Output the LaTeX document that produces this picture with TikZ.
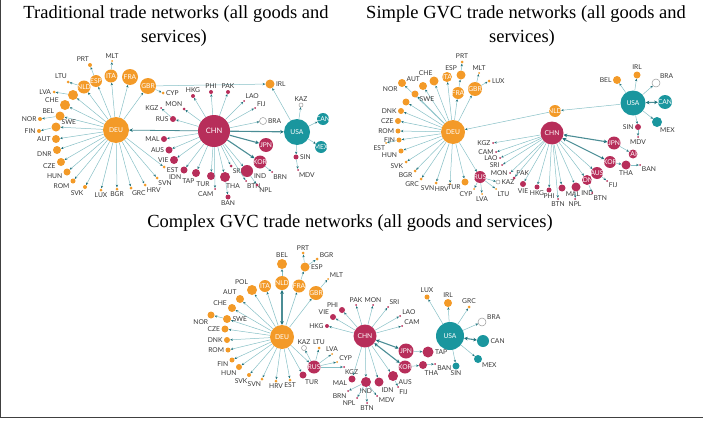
\documentclass[tikz,border=0pt]{standalone}
\usepackage{fontspec}
\setmainfont{Liberation Serif}
\newfontfamily\latofam{Lato}
\usetikzlibrary{arrows.meta}
\definecolor{euorg}{RGB}{243,154,40}
\definecolor{asred}{RGB}{183,46,90}
\definecolor{amteal}{RGB}{26,150,158}
\definecolor{lnkcol}{RGB}{135,192,198}
\definecolor{tipcol}{RGB}{30,112,122}
\definecolor{labgray}{RGB}{55,55,55}
\newcommand\ctryfont{\latofam\fontsize{6.7}{7}\selectfont}
\tikzset{ctry/.style = {circle, inner sep = 0, outer sep = 0.2pt, text=white, font=\ctryfont}}
\tikzset{eur/.style = {ctry, fill=euorg}}
\tikzset{asi/.style = {ctry, fill=asred}}
\tikzset{ame/.style = {ctry, fill=amteal}}
\tikzset{hol/.style = {ctry, draw=gray!80, fill=white, line width=0.5pt}}
\tikzset{lab/.style = {font=\ctryfont, text=labgray, inner sep=0.5pt}}
\tikzset{intxt/.style = {font=\ctryfont, text=white, inner sep=0}}
\tikzset{lnk/.style = {draw=lnkcol, line width=0.5pt, -{Stealth[length=2.6pt, width=2.3pt, color=tipcol]}}}
\tikzset{lnkb/.style = {draw=tipcol!80, line width=1.1pt, -{Stealth[length=3.6pt, width=3.6pt, color=tipcol]}}}
\tikzset{lnkbb/.style = {lnkb, {Stealth[length=3.6pt, width=3.6pt, color=tipcol]}-{Stealth[length=3.6pt, width=3.6pt, color=tipcol]}}}
\tikzset{ttl/.style = {font=\fontsize{18.5}{20}\selectfont, anchor=base, inner sep=0}}
\begin{document}
\begin{tikzpicture}[x=1pt, y=-1pt, label distance=0.6pt]
\useasboundingbox (0,0) rectangle (703,420);
\draw[black!75, line width=1.4pt] (0.7,0) -- (0.7,417.5) -- (703,417.5);
% titles
\node[ttl] (ta1) at (176,18.5) {Traditional trade networks (all goods and};
\node[ttl] (ta2) at (174,43) {services)};
\node[ttl] (tb1) at (526,18.5) {Simple GVC trade networks (all goods and};
\node[ttl] (tb2) at (522,43) {services)};
\node[ttl] (tc1) at (350,227) {Complex GVC trade networks (all goods and services)};
% traditional
\node[eur, minimum size=26pt] (aDEU) at (116,130) {DEU};
\node[asi, minimum size=32pt, font=\latofam\fontsize{7.5}{8}\selectfont] (aCHN) at (214,131) {CHN};
\node[ame, minimum size=26pt] (aUSA) at (297,132) {USA};
\draw[lnkb, line width=0.8pt] (aCHN) -- (aDEU);
\draw[lnkb] (aCHN) -- (aUSA);
\foreach \id/\x/\y/\d/\s/\t/\p/\l in {aNLD/84/87/13/eur/NLD/aDEU/lnk, aESP/96/81/12/eur/ESP/aDEU/lnk,
    aITA/111/76/13/eur/ITA/aDEU/lnk, aFRA/130/77/16/eur/FRA/aDEU/lnk, aGBR/148/86/16/eur/GBR/aDEU/lnk,
    aJPN/266/145/14/asi/JPN/aCHN/lnkb, aKOR/260/162/13/asi/KOR/aCHN/lnkb,
    aCAN/323/119/12/ame/CAN/aUSA/lnk, aMEX/321/147/12/ame/MEX/aUSA/lnk}
  {\node[\s, minimum size=\d pt, label={[intxt]center:\t}] (\id) at (\x,\y) {};
   \draw[\l] (\p) -- (\id);}
\node[eur, minimum size=10pt] (aX1) at (73,95) {};
\draw[lnk] (aDEU) -- (aX1);
\foreach \id/\x/\y/\d/\s/\t/\a/\p in {aCHE/65/105/10/eur/CHE/165/aDEU, aBEL/60/116/9/eur/BEL/165/aDEU,
    aSWE/56/127/9/eur/SWE/20/aDEU, aAUT/56/139/8/eur/AUT/180/aDEU, aDNR/57/150/8/eur/DNR/190/aDEU,
    aCZE/61/162/8/eur/CZE/190/aDEU, aHUN/67/172/7/eur/HUN/200/aDEU, aROM/73/181/5/eur/ROM/210/aDEU,
    aSVK/85/187/4/eur/SVK/-110/aDEU, aLUX/101/190/3/eur/LUX/-90/aDEU, aBGR/117/189/3/eur/BGR/-90/aDEU,
    aGRC/131/188/3/eur/GRC/-80/aDEU, aHRV/145/185/3/eur/HRV/-60/aDEU, aSVN/157/178/3/eur/SVN/-70/aDEU,
    aEST/164/167/3/eur/EST/-10/aDEU, aLTU/68/82/3/eur/LTU/100/aNLD, aPRT/90/65/4/eur/PRT/100/aESP,
    aMLT/112/61/2/eur/MLT/90/aITA, aLVA/54/92/3/eur/LVA/180/aX1, aNOR/40/119/4/eur/NOR/180/aBEL,
    aFIN/39/131/4/eur/FIN/180/aSWE, aCYP/163/93/3/eur/CYP/0/aGBR, aIRL/270/84/9/eur/IRL/0/aGBR,
    aRUS/173/119/6/asi/RUS/180/aCHN, aKGZ/161/108/2/asi/KGZ/180/aRUS, aMON/184/109/3/asi/MON/120/aCHN,
    aHKG/193/96/4/asi/HKG/90/aCHN, aPHI/211/92/4/asi/PHI/90/aCHN, aPAK/228/92/4/asi/PAK/90/aCHN,
    aLAO/244/101/2/asi/LAO/60/aCHN, aFIJ/255/108/2/asi/FIJ/35/aCHN, aBRA/263/121/7/hol/BRA/0/aCHN,
    aMAL/164/139/6/asi/MAL/180/aCHN, aAUS/169/150/7/asi/AUS/180/aCHN, aVIE/174/160/8/asi/VIE/180/aCHN,
    aIDN/184/170/7/asi/IDN/-120/aCHN, aTAP/196/173/8/asi/TAP/-100/aCHN, aTUR/211/176/8/asi/TUR/-100/aCHN,
    aCAM/215/189/2/asi/CAM/-120/aCHN, aTHA/225/177/10/asi/THA/-85/aCHN, aBAN/228/197/5/asi/BAN/-90/aTHA,
    aSRI/231/166/3/asi/SRI/-60/aCHN, aBTN/246/181/2/asi/BTN/-75/aCHN, aIND/247/171/12/asi/IND/-20/aCHN,
    aNPL/257/185/3/asi/NPL/-45/aIND, aBRN/272/172/2/asi/BRN/-70/aKOR, aKAZ/301/105/4/hol/KAZ/90/aUSA,
    aSIN/296/157/5/asi/SIN/0/aUSA, aMDV/298/170/2/asi/MDV/-80/aSIN}
  {\node[\s, minimum size=\d pt, label={[lab]\a:\t}] (\id) at (\x,\y) {};
   \draw[lnk] (\p) -- (\id);}
\draw[lnk] (aUSA) -- (aIRL);
% simple GVC
\node[eur, minimum size=24pt] (bDEU) at (453,132) {DEU};
\node[asi, minimum size=23pt] (bCHN) at (552,133) {CHN};
\node[ame, minimum size=25pt] (bUSA) at (633,103) {USA};
\foreach \id/\x/\y/\d/\s/\t/\p/\l in {bNLD/555/111/12/eur/NLD/bUSA/lnk, bITA/447/77/10/eur/ITA/bDEU/lnk,
    bFRA/458/93/12/eur/FRA/bDEU/lnk, bGBR/475/89/14/eur/GBR/bDEU/lnk, bRUS/480/177/12/asi/RUS/bDEU/lnk,
    bJPN/614/143/13/asi/JPN/bCHN/lnkbb, bKOR/610/162/12/asi/KOR/bCHN/lnkbb, bTAP/633/154/9/asi/TAP/bJPN/lnk,
    bAUS/597/173/12/asi/AUS/bCHN/lnk, bIDN/587/180/10/asi/IDN/bCHN/lnk, bCAN/665/102/14/ame/CAN/bUSA/lnkbb}
  {\node[\s, minimum size=\d pt, label={[intxt]center:\t}] (\id) at (\x,\y) {};
   \draw[\l] (\p) -- (\id);}
\draw[lnk] (bNLD) -- (bDEU);
\node[eur, minimum size=7pt] (bX1) at (406,102) {};
\draw[lnk] (bDEU) -- (bX1);
\foreach \id/\x/\y/\d/\s/\t/\a/\p in {bESP/461/75/9/eur/ESP/130/bFRA, bPRT/462/62/3/eur/PRT/90/bESP,
    bMLT/479/73/2/eur/MLT/90/bGBR, bLUX/489/81/3/eur/LUX/0/bGBR, bAUT/423/86/8/eur/AUT/120/bDEU,
    bCHE/434/81/9/eur/CHE/100/bDEU, bNOR/402/83/8/eur/NOR/-140/bDEU, bSWE/415/94/7/eur/SWE/-20/bDEU,
    bDNK/401/111/6/eur/DNK/180/bDEU, bCZE/398/121/6/eur/CZE/180/bDEU, bROM/398/131/5/eur/ROM/180/bDEU,
    bFIN/399/140/5/eur/FIN/180/bDEU, bEST/386/143/2/eur/EST/-100/bFIN, bHUN/401/151/5/eur/HUN/190/bDEU,
    bSVK/406/162/3/eur/SVK/200/bDEU, bBGR/415/171/3/eur/BGR/210/bDEU, bGRC/421/179/3/eur/GRC/-130/bDEU,
    bSVN/436/183/3/eur/SVN/-120/bDEU, bHRV/450/184/2/eur/HRV/-110/bDEU, bTUR/465/182/7/eur/TUR/-150/bDEU,
    bCYP/474/189/2/eur/CYP/-120/bRUS, bLVA/482/194/2/eur/LVA/-90/bRUS, bLTU/496/189/2/eur/LTU/-60/bRUS,
    bKAZ/498/182/4/hol/KAZ/0/bRUS, bKGZ/493/143/2/asi/KGZ/180/bCHN, bCAM/496/152/2/asi/CAM/180/bCHN,
    bLAO/500/158/2/asi/LAO/180/bCHN, bSRI/502/165/2/asi/SRI/180/bCHN, bMON/510/173/2/asi/MON/180/bCHN,
    bPAK/514/178/3/asi/PAK/40/bCHN, bVIE/523/184/6/asi/VIE/-90/bCHN, bHKG/537/187/5/asi/HKG/-90/bCHN,
    bPHI/549/190/5/asi/PHI/-90/bCHN, bBTN/558/199/2/asi/BTN/-90/bCHN, bMAL/562/188/7/asi/MAL/-45/bCHN,
    bIND/576/187/9/asi/IND/-30/bCHN, bNPL/575/199/2/asi/NPL/-90/bIND, bBTNb/592/193/2/asi/BTN/-60/bIDN,
    bFIJ/607/181/2/asi/FIJ/-45/bAUS, bTHA/626/165/9/asi/THA/-90/bKOR, bBAN/640/165/2/asi/BAN/-45/bTHA,
    bBEL/617/80/8/eur/BEL/180/bUSA, bIRL/637/75/7/eur/IRL/90/bUSA, bBRA/656/83/8/hol/BRA/45/bUSA,
    bMEX/657/122/10/ame/MEX/-65/bUSA, bSIN/638/127/6/asi/SIN/180/bUSA, bMDV/638/137/2/asi/MDV/-90/bSIN}
  {\node[\s, minimum size=\d pt, label={[lab]\a:\t}] (\id) at (\x,\y) {};
   \draw[lnk] (\p) -- (\id);}
% complex GVC
\node[eur, minimum size=24pt] (cDEU) at (282,337) {DEU};
\node[asi, minimum size=23pt] (cCHN) at (365,336) {CHN};
\node[ame, minimum size=28pt] (cUSA) at (450,336) {USA};
\foreach \id/\x/\y/\d/\s/\t/\p/\l in {cNLD/282/283/14/eur/NLD/cDEU/lnkbb, cITA/265/286/12/eur/ITA/cDEU/lnk,
    cFRA/299/286/13/eur/FRA/cDEU/lnk, cGBR/316/293/14/eur/GBR/cDEU/lnk, cRUS/314/367/13/asi/RUS/cDEU/lnk,
    cJPN/406/351/15/asi/JPN/cCHN/lnkbb, cKOR/405/367/13/asi/KOR/cCHN/lnkbb}
  {\node[\s, minimum size=\d pt, label={[intxt]center:\t}] (\id) at (\x,\y) {};
   \draw[\l] (\p) -- (\id);}
\foreach \id/\x/\y/\d/\s/\t/\a/\p in {cBEL/282/264/10/eur/BEL/90/cNLD, cPOL/252/290/10/eur/POL/125/cDEU,
    cESP/305/267/9/eur/ESP/0/cFRA, cPRT/303/253/3/eur/PRT/90/cESP, cBGR/317/259/3/eur/BGR/20/cESP,
    cMLT/328/279/2/eur/MLT/45/cGBR, cAUT/240/299/8/eur/AUT/125/cDEU, cCHE/232/308/8/eur/CHE/160/cDEU,
    cSWE/227/319/8/eur/SWE/0/cDEU, cNOR/211/315/7/eur/NOR/-120/cSWE, cCZE/225/329/7/eur/CZE/180/cDEU,
    cDNK/227/340/6/eur/DNK/180/cDEU, cROM/228/350/5/eur/ROM/180/cDEU, cFIN/232/360/5/eur/FIN/200/cDEU,
    cHUN/239/367/6/eur/HUN/-120/cDEU, cSVK/249/375/4/eur/SVK/-110/cDEU, cSVN/262/379/3/eur/SVN/-100/cDEU,
    cHRV/276/381/3/eur/HRV/-90/cDEU, cEST/290/380/3/eur/EST/-90/cDEU, cTUR/303/375/7/asi/TUR/-70/cDEU,
    cKAZ/304/348/5/hol/KAZ/90/cRUS, cLTU/319/348/3/eur/LTU/90/cRUS, cLVA/332/354/2/eur/LVA/90/cRUS,
    cCYP/337/362/2/eur/CYP/30/cRUS, cKGZ/344/367/2/asi/KGZ/-80/cRUS,
    cVIE/333/317/6/asi/VIE/150/cCHN, cPHI/342/310/6/asi/PHI/150/cCHN, cHKG/327/326/4/asi/HKG/180/cCHN,
    cPAK/356/305/2/asi/PAK/90/cCHN, cMON/373/305/2/asi/MON/90/cCHN, cSRI/388/307/2/asi/SRI/60/cCHN,
    cLAO/400/316/2/asi/LAO/30/cCHN, cCAM/402/326/2/asi/CAM/20/cCHN, cMAL/352/379/7/asi/MAL/190/cCHN,
    cIND/366/382/10/asi/IND/-90/cCHN, cIDN/379/382/9/asi/IDN/-70/cCHN, cAUS/393/376/10/asi/AUS/-30/cCHN,
    cBRN/348/391/2/asi/BRN/-120/cIND, cNPL/357/398/2/asi/NPL/-120/cIND, cBTN/367/403/2/asi/BTN/-90/cIND,
    cMDV/377/396/2/asi/MDV/-45/cIND, cFIJ/398/387/2/asi/FIJ/-70/cAUS, cTAP/428/352/11/asi/TAP/0/cJPN,
    cTHA/423/365/8/asi/THA/-80/cKOR, cBAN/435/364/2/asi/BAN/-20/cTHA,
    cLUX/427/297/5/eur/LUX/90/cUSA, cIRL/448/303/8/eur/IRL/90/cUSA, cGRC/469/307/3/eur/GRC/90/cUSA,
    cBRA/482/322/8/hol/BRA/20/cUSA, cMEX/478/359/8/ame/MEX/-45/cUSA, cSIN/456/366/7/ame/SIN/-90/cUSA}
  {\node[\s, minimum size=\d pt, label={[lab]\a:\t}] (\id) at (\x,\y) {};
   \draw[lnk] (\p) -- (\id);}
\node[ame, minimum size=12pt, label={[lab]0:CAN}] (cCAN) at (483,341) {};
\draw[lnkbb] (cUSA) -- (cCAN);
\end{tikzpicture}
\end{document}
